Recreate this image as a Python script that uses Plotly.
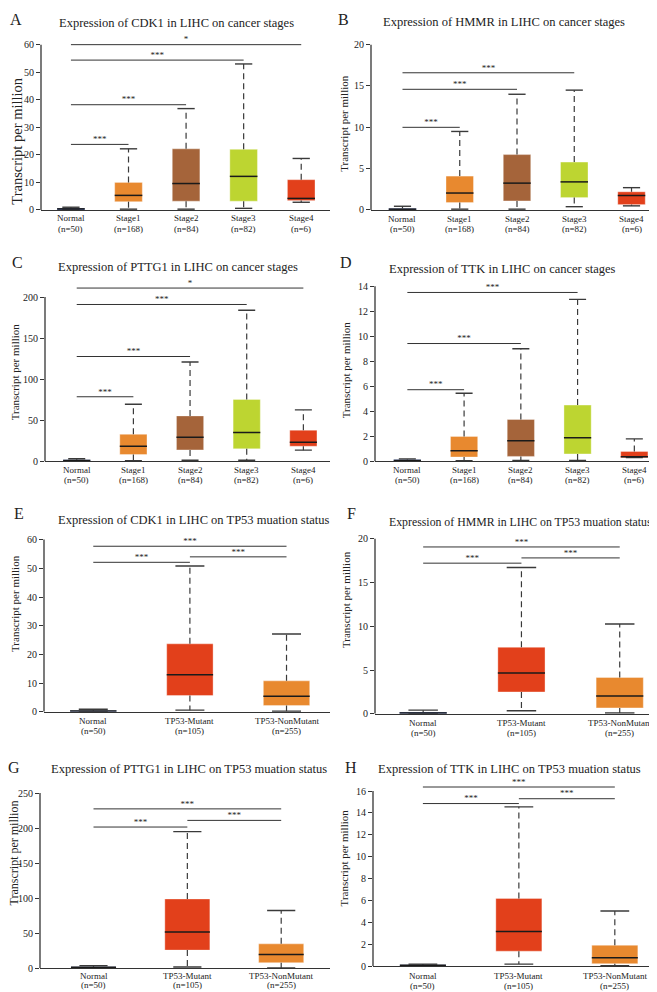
import plotly.graph_objects as go

W, H = 657, 992
FONT = "Liberation Serif, Times New Roman, serif"

NAVY = "#2f4a9a"
ORANGE = "#e8892f"
BROWN = "#a5643a"
LIME = "#bdd531"
RED = "#e2401b"

STAGE_CATS = ["Normal", "Stage1", "Stage2", "Stage3", "Stage4"]
STAGE_N = ["(n=50)", "(n=168)", "(n=84)", "(n=82)", "(n=6)"]
TP53_CATS = ["Normal", "TP53-Mutant", "TP53-NonMutant"]
TP53_N = ["(n=50)", "(n=105)", "(n=255)"]
STAGE_COLORS = [NAVY, ORANGE, BROWN, LIME, RED]
TP53_COLORS = [NAVY, RED, ORANGE]
STAGE_PAIRS = [(0, 1), (0, 2), (0, 3), (0, 4)]
TP53_PAIRS = [(0, 1), (1, 2), (0, 2)]

# A - CDK1, stages
a_lo = [0.0, 0.3, 0.3, 0.6, 2.8]
a_q1 = [0.0, 3.0, 3.2, 3.2, 3.4]
a_med = [0.4, 5.3, 9.6, 12.2, 4.2]
a_q3 = [0.7, 10.0, 22.2, 22.0, 11.0]
a_hi = [1.0, 22.2, 36.8, 53.0, 18.7]
a_sig = [23.8, 38.2, 54.4, 60.0]
a_sig_lbl = ["***", "***", "***", "*"]

# B - HMMR, stages
b_lo = [0.0, 0.1, 0.1, 0.4, 0.5]
b_q1 = [0.0, 0.9, 1.1, 1.5, 0.65]
b_med = [0.1, 2.05, 3.25, 3.4, 1.75]
b_q3 = [0.2, 4.1, 6.7, 5.8, 2.2]
b_hi = [0.45, 9.5, 14.0, 14.5, 2.7]
b_sig = [10.0, 14.6, 16.6]
b_sig_lbl = ["***", "***", "***"]

# C - PTTG1, stages
c_lo = [0.0, 1.0, 1.5, 1.5, 13.7]
c_q1 = [0.0, 8.4, 14.0, 15.3, 18.5]
c_med = [1.0, 18.5, 29.3, 35.3, 23.3]
c_q3 = [2.0, 33.0, 55.4, 75.5, 38.0]
c_hi = [3.2, 69.5, 121.0, 184.0, 62.7]
c_sig = [78.7, 127.7, 191.0, 211.0]
c_sig_lbl = ["***", "***", "***", "*"]

# D - TTK, stages
d_lo = [0.0, 0.05, 0.08, 0.08, 0.3]
d_q1 = [0.0, 0.35, 0.4, 0.6, 0.3]
d_med = [0.07, 0.85, 1.65, 1.9, 0.38]
d_q3 = [0.15, 2.0, 3.35, 4.5, 0.8]
d_hi = [0.2, 5.45, 9.0, 12.95, 1.8]
d_sig = [5.73, 9.42, 13.5]
d_sig_lbl = ["***", "***", "***"]

# E - CDK1, TP53 status
e_lo = [0.0, 0.6, 0.2]
e_q1 = [0.0, 5.7, 2.2]
e_med = [0.3, 12.9, 5.4]
e_q3 = [0.5, 23.7, 10.8]
e_hi = [0.9, 50.8, 27.1]
e_sig = [52.1, 54.0, 57.7]
e_sig_lbl = ["***", "***", "***"]

# F - HMMR, TP53 status
f_lo = [0.0, 0.35, 0.1]
f_q1 = [0.0, 2.5, 0.68]
f_med = [0.1, 4.65, 2.04]
f_q3 = [0.2, 7.6, 4.15]
f_hi = [0.42, 16.7, 10.26]
f_sig = [17.2, 17.8, 19.05]
f_sig_lbl = ["***", "***", "***"]

# G - PTTG1, TP53 status
g_lo = [0.0, 1.9, 0.5]
g_q1 = [0.0, 25.9, 8.0]
g_med = [1.5, 51.8, 19.8]
g_q3 = [2.0, 98.9, 34.8]
g_hi = [3.8, 195.0, 82.4]
g_sig = [201.5, 211.0, 227.4]
g_sig_lbl = ["***", "***", "***"]

# H - TTK, TP53 status
h_lo = [0.0, 0.2, 0.05]
h_q1 = [0.0, 1.38, 0.24]
h_med = [0.1, 3.18, 0.78]
h_q3 = [0.15, 6.2, 1.92]
h_hi = [0.2, 14.56, 5.05]
h_sig = [14.86, 15.3, 16.37]
h_sig_lbl = ["***", "***", "***"]

panels = [
    dict(letter="A", title="Expression of CDK1 in LIHC on cancer stages", cats=STAGE_CATS,
         ns=STAGE_N, colors=STAGE_COLORS, pairs=STAGE_PAIRS,
         lo=a_lo, q1=a_q1, med=a_med, q3=a_q3, hi=a_hi,
         sig=a_sig, sig_lbl=a_sig_lbl, ticks=[0, 10, 20, 30, 40, 50, 60],
         xpx=(33, 322), y0=200, ytop=33, xr=(-0.52, 4.5), lab=(8, 19),
         tpos=(168, 11), tanchor="center", tsize=12.5, lpos=(8, 8), ypos=(9, 131), ysize=14.5),
    dict(letter="B", title="Expression of HMMR in LIHC on cancer stages", cats=STAGE_CATS,
         ns=STAGE_N, colors=STAGE_COLORS, pairs=STAGE_PAIRS[:3],
         lo=b_lo, q1=b_q1, med=b_med, q3=b_q3, hi=b_hi,
         sig=b_sig, sig_lbl=b_sig_lbl, ticks=[0, 5, 10, 15, 20],
         xpx=(363, 651), y0=200, ytop=33, xr=(-0.55, 4.48), lab=(9, 19),
         tpos=(496, 10), tanchor="center", tsize=12.5, lpos=(335, 8), ypos=(336, 113), ysize=11),
    dict(letter="C", title="Expression of PTTG1 in LIHC on cancer stages", cats=STAGE_CATS,
         ns=STAGE_N, colors=STAGE_COLORS, pairs=STAGE_PAIRS,
         lo=c_lo, q1=c_q1, med=c_med, q3=c_q3, hi=c_hi,
         sig=c_sig, sig_lbl=c_sig_lbl, ticks=[0, 50, 100, 150, 200],
         xpx=(37, 322), y0=454, ytop=288, xr=(-0.56, 4.47), lab=(9, 19),
         tpos=(170, 258), tanchor="center", tsize=12.5, lpos=(9, 253), ypos=(7, 364), ysize=11),
    dict(letter="D", title="Expression of TTK in LIHC on cancer stages", cats=STAGE_CATS,
         ns=STAGE_N, colors=STAGE_COLORS, pairs=STAGE_PAIRS[:3],
         lo=d_lo, q1=d_q1, med=d_med, q3=d_q3, hi=d_hi,
         sig=d_sig, sig_lbl=d_sig_lbl, ticks=[0, 2, 4, 6, 8, 10, 12, 14],
         xpx=(367, 653), y0=454, ytop=277, xr=(-0.57, 4.47), lab=(9, 19),
         tpos=(494, 260), tanchor="center", tsize=12.5, lpos=(338, 253), ypos=(338, 362), ysize=11),
    dict(letter="E", title="Expression of CDK1 in LIHC on TP53 muation status", cats=TP53_CATS,
         ns=TP53_N, colors=TP53_COLORS, pairs=TP53_PAIRS,
         lo=e_lo, q1=e_q1, med=e_med, q3=e_q3, hi=e_hi,
         sig=e_sig, sig_lbl=e_sig_lbl, ticks=[0, 10, 20, 30, 40, 50, 60],
         xpx=(36, 322), y0=707, ytop=533, xr=(-0.51, 2.45), lab=(9, 19),
         tpos=(185, 513), tanchor="center", tsize=12.5, lpos=(11, 507), ypos=(7, 598), ysize=11),
    dict(letter="F", title="Expression of HMMR in LIHC on TP53 muation status", cats=TP53_CATS,
         ns=TP53_N, colors=TP53_COLORS, pairs=TP53_PAIRS,
         lo=f_lo, q1=f_q1, med=f_med, q3=f_q3, hi=f_hi,
         sig=f_sig, sig_lbl=f_sig_lbl, ticks=[0, 5, 10, 15, 20],
         xpx=(367, 653), y0=709, ytop=532, xr=(-0.49, 2.42), lab=(9, 19),
         tpos=(646, 515), tanchor="right", tsize=11.8, lpos=(343, 507), ypos=(338, 594), ysize=11),
    dict(letter="G", title="Expression of PTTG1 in LIHC on TP53 muation status", cats=TP53_CATS,
         ns=TP53_N, colors=TP53_COLORS, pairs=TP53_PAIRS,
         lo=g_lo, q1=g_q1, med=g_med, q3=g_q3, hi=g_hi,
         sig=g_sig, sig_lbl=g_sig_lbl, ticks=[0, 50, 100, 150, 200, 250],
         xpx=(32, 322), y0=966, ytop=789, xr=(-0.57, 2.52), lab=(8, 17),
         tpos=(181, 765), tanchor="center", tsize=12.5, lpos=(6, 763), ypos=(6, 850), ysize=12),
    dict(letter="H", title="Expression of TTK in LIHC on TP53 muation status", cats=TP53_CATS,
         ns=TP53_N, colors=TP53_COLORS, pairs=TP53_PAIRS,
         lo=h_lo, q1=h_q1, med=h_med, q3=h_q3, hi=h_hi,
         sig=h_sig, sig_lbl=h_sig_lbl, ticks=[0, 2, 4, 6, 8, 10, 12, 14, 16],
         xpx=(365, 650), y0=964, ytop=787, xr=(-0.52, 2.45), lab=(10, 20),
         tpos=(501, 765), tanchor="center", tsize=12.5, lpos=(343, 763), ypos=(336, 855), ysize=11),
]

BOX_W = 0.48
CAP_W = 0.15

fig = go.Figure()
layout = dict(width=W, height=H, margin=dict(l=0, r=0, t=0, b=0),
              paper_bgcolor="white", plot_bgcolor="white", showlegend=False,
              font=dict(family=FONT, color="#222"))
annotations = []
shapes = []

for k, p in enumerate(panels, start=1):
    xa = "x" if k == 1 else f"x{k}"
    ya = "y" if k == 1 else f"y{k}"
    n = len(p["cats"])
    pos = list(range(n))
    top = p["ticks"][-1]
    scale = (p["y0"] - p["ytop"]) / top
    top_ext = max(top, max(p["sig"])) * 1.01
    ydom = [1 - p["y0"] / H, 1 - (p["y0"] - top_ext * scale) / H]

    # whiskers (dashed)
    wx, wy = [], []
    for i in pos:
        wx += [i, i, None, i, i, None]
        wy += [p["q3"][i], p["hi"][i], None, p["q1"][i], p["lo"][i], None]
    fig.add_trace(go.Scatter(x=wx, y=wy, mode="lines", xaxis=xa, yaxis=ya,
                             line=dict(color="#3a3a3a", width=1.2, dash="6px,4px"),
                             hoverinfo="skip"))
    # caps
    cx, cy = [], []
    for i in pos:
        cx += [i - CAP_W, i + CAP_W, None, i - CAP_W, i + CAP_W, None]
        cy += [p["hi"][i], p["hi"][i], None, p["lo"][i], p["lo"][i], None]
    fig.add_trace(go.Scatter(x=cx, y=cy, mode="lines", xaxis=xa, yaxis=ya,
                             line=dict(color="#3a3a3a", width=1.4), hoverinfo="skip"))
    # boxes
    fig.add_trace(go.Bar(x=pos, base=p["q1"],
                         y=[q3 - q1 for q1, q3 in zip(p["q1"], p["q3"])],
                         width=BOX_W, xaxis=xa, yaxis=ya,
                         marker=dict(color=p["colors"],
                                     line=dict(color="rgba(255,255,255,0.35)", width=1))))
    # medians
    mx, my = [], []
    for i in pos:
        mx += [i - BOX_W / 2, i + BOX_W / 2, None]
        my += [p["med"][i], p["med"][i], None]
    fig.add_trace(go.Scatter(x=mx, y=my, mode="lines", xaxis=xa, yaxis=ya,
                             line=dict(color="#1a1a1a", width=1.5), hoverinfo="skip"))
    # significance bars
    sx, sy, tx, ty = [], [], [], []
    for (a, b), h in zip(p["pairs"], p["sig"]):
        sx += [a, b, None]
        sy += [h, h, None]
        tx.append((a + b) / 2)
        ty.append(h)
    fig.add_trace(go.Scatter(x=sx, y=sy, mode="lines", xaxis=xa, yaxis=ya,
                             line=dict(color="#333", width=1), hoverinfo="skip"))
    fig.add_trace(go.Scatter(x=tx, y=ty, mode="text", text=p["sig_lbl"],
                             textposition="top center", cliponaxis=False,
                             textfont=dict(size=9, color="#222", family=FONT),
                             xaxis=xa, yaxis=ya, hoverinfo="skip"))

    layout["xaxis" if k == 1 else f"xaxis{k}"] = dict(
        domain=[p["xpx"][0] / W, p["xpx"][1] / W], anchor=ya, range=list(p["xr"]),
        showticklabels=False, showline=True, linecolor="#333", linewidth=1.3,
        ticks="", showgrid=False, zeroline=False, fixedrange=True)
    layout["yaxis" if k == 1 else f"yaxis{k}"] = dict(
        domain=ydom, anchor=xa, range=[0, top_ext], tickvals=p["ticks"],
        showline=False, ticks="outside", ticklen=4, tickwidth=1, tickcolor="#333",
        showgrid=False, zeroline=False, fixedrange=True,
        tickfont=dict(size=10, family=FONT, color="#222"))

    # y axis spine from 0 up to the top tick only
    shapes.append(dict(type="line", xref=f"{xa} domain", yref=ya, x0=0, x1=0, y0=0, y1=top,
                       line=dict(color="#333", width=1.3)))

    # category labels, two lines under the axis
    for i in pos:
        for txt, off in ((p["cats"][i], p["lab"][0]), (p["ns"][i], p["lab"][1])):
            annotations.append(dict(text=txt, x=i, xref=xa, y=ydom[0], yref="paper",
                                    yshift=-off, showarrow=False, xanchor="center",
                                    yanchor="middle",
                                    font=dict(size=9, family=FONT, color="#222")))

    annotations.append(dict(text=p["title"], x=p["tpos"][0] / W, y=1 - p["tpos"][1] / H,
                            xref="paper", yref="paper", showarrow=False,
                            xanchor=p["tanchor"], yanchor="middle",
                            font=dict(size=p["tsize"], family=FONT, color="#222")))
    annotations.append(dict(text=p["letter"], x=p["lpos"][0] / W, y=1 - p["lpos"][1] / H,
                            xref="paper", yref="paper", showarrow=False,
                            xanchor="center", yanchor="middle",
                            font=dict(size=16, family=FONT, color="#222")))
    annotations.append(dict(text="Transcript per million", x=p["ypos"][0] / W,
                            y=1 - p["ypos"][1] / H, xref="paper", yref="paper",
                            showarrow=False, textangle=-90, xanchor="center", yanchor="middle",
                            font=dict(size=p["ysize"], family=FONT, color="#222")))

layout["annotations"] = annotations
layout["shapes"] = shapes
fig.update_layout(**layout)
fig.write_html("out.html")
